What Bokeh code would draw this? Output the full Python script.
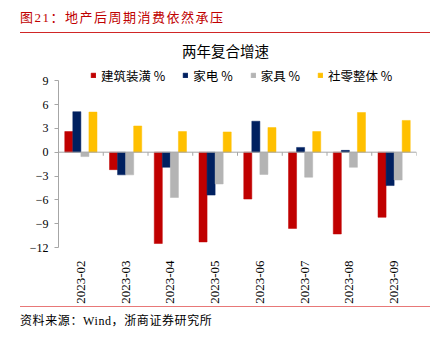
import math
from bokeh.plotting import figure
from bokeh.layouts import column
from bokeh.models import (FixedTicker, Label, Span, Legend, LegendItem, Range1d, Div)
from bokeh.embed import file_html
from bokeh.resources import INLINE

months = ["2023-02", "2023-03", "2023-04", "2023-05", "2023-06", "2023-07", "2023-08", "2023-09"]
building = [2.6, -2.2, -11.5, -11.3, -5.9, -9.6, -10.3, -8.2]
appliance = [5.1, -2.85, -1.9, -5.4, 3.9, 0.6, 0.23, -4.2]
furniture = [-0.55, -2.85, -5.7, -4.0, -2.8, -3.15, -1.9, -3.5]
retail = [5.05, 3.3, 2.6, 2.55, 3.1, 2.6, 5.0, 4.0]
series_names = ["建筑装潢 %", "家电 %", "家具 %", "社零整体 %"]
series_colors = ["#C00000", "#002060", "#B4B4B4", "#FFC000"]
y_ticks = [-12, -9, -6, -3, 0, 3, 6, 9]

title_text = "图21：地产后周期消费依然承压"
chart_title = "两年复合增速"
source_text = "资料来源：Wind，浙商证券研究所"

SERIF = "Liberation Serif"
CJK = "Noto Sans CJK SC"

# layout (pixels)
FIG_TOP = 40          # page y where figure starts
FIG_H = 266
FRAME_TOP_PAGE = 40   # frame top (page)
AX_TOP_PAGE = 81      # where value 9 sits
AX_BOT_PAGE = 251     # where value -12 sits
ymin, ymax = min(y_ticks), max(y_ticks)
px_per_unit = (AX_BOT_PAGE - AX_TOP_PAGE) / (ymax - ymin)
y_top = ymax + (AX_TOP_PAGE - FRAME_TOP_PAGE) / px_per_unit

n = len(months)
p = figure(width=438, height=FIG_H, output_backend="svg", toolbar_location=None,
           x_range=Range1d(0, n), y_range=Range1d(ymin, y_top),
           min_border_left=58, min_border_right=22, min_border_top=FRAME_TOP_PAGE - FIG_TOP,
           min_border_bottom=FIG_TOP + FIG_H - AX_BOT_PAGE)
p.outline_line_color = None
p.xgrid.visible = False
p.ygrid.visible = False
p.background_fill_color = "white"
p.border_fill_color = "white"

bw = 0.18
offsets = [-1.5 * bw, -0.5 * bw, 0.5 * bw, 1.5 * bw]
data_sets = [building, appliance, furniture, retail]
renderers = []
for vals, off, col in zip(data_sets, offsets, series_colors):
    xs = [i + 0.5 + off for i in range(n)]
    r = p.vbar(x=xs, top=vals, bottom=0, width=bw, fill_color=col, line_color=col, line_width=0.5)
    renderers.append(r)

# zero line and category boundary ticks
p.add_layout(Span(location=0, dimension="width", line_color="#A6A6A6", line_width=1))
bx = list(range(1, n + 1))
p.segment(x0=bx, x1=bx, y0=[0] * len(bx), y1=[-0.45] * len(bx), line_color="#A6A6A6", line_width=1)

# axes
p.xaxis.ticker = FixedTicker(ticks=[i + 0.5 for i in range(n)])
p.xaxis.major_label_overrides = {i + 0.5: m for i, m in enumerate(months)}
p.xaxis.major_label_orientation = math.pi / 2
p.xaxis.axis_line_color = None
p.xaxis.major_tick_line_color = None
p.xaxis.minor_tick_line_color = None
p.xaxis.major_label_text_font = SERIF
p.xaxis.major_label_text_font_size = "13px"
p.xaxis.major_label_text_color = "#000000"
p.xaxis.major_label_standoff = 7

p.yaxis.ticker = FixedTicker(ticks=y_ticks)
p.yaxis.bounds = (ymin, ymax)
p.yaxis.axis_line_color = "#A6A6A6"
p.yaxis.major_tick_line_color = "#A6A6A6"
p.yaxis.major_tick_out = 4
p.yaxis.major_tick_in = 0
p.yaxis.minor_tick_line_color = None
p.yaxis.major_label_text_font = SERIF
p.yaxis.major_label_text_font_size = "12px"
p.yaxis.major_label_text_color = "#000000"
p.yaxis.major_label_standoff = 6

# legend (frame-relative screen coordinates)
frame_bottom = AX_BOT_PAGE
items = [LegendItem(label=nm, renderers=[r]) for nm, r in zip(series_names, renderers)]
legend = Legend(items=items, orientation="horizontal", location=(90 - 58, frame_bottom - 89),
                glyph_width=6, glyph_height=6, label_standoff=5, spacing=17,
                padding=0, margin=0, border_line_color=None, background_fill_alpha=0,
                label_text_font=CJK, label_text_font_size="12.5px", label_text_color="#000000",
                label_height=20)
p.add_layout(legend, "center")

p.add_layout(Label(x=225 - 58, y=frame_bottom - 54, x_units="screen", y_units="screen", text=chart_title,
                   text_font=CJK, text_font_size="14.5px", text_color="#000000",
                   text_baseline="middle", text_align="center"))

top_div = Div(width=438, height=FIG_TOP, margin=0, text=(
    "<div style=\"margin-left:20px;width:410px;height:33px;box-sizing:border-box;"
    "border-bottom:1.5px solid #D02626;padding-top:9px;line-height:18px;white-space:pre;letter-spacing:1.5px;"
    "font-family:'Liberation Serif','Noto Sans CJK SC';font-size:13px;color:#C00000;\">"
    + title_text + "</div>"))

bottom_div = Div(width=438, height=339 - FIG_TOP - FIG_H, margin=0, text=(
    "<div style=\"margin-left:20px;width:410px;box-sizing:border-box;"
    "border-top:1.5px solid #E87878;padding-top:6px;line-height:16px;white-space:pre;letter-spacing:0.6px;"
    "font-family:'Liberation Serif','Noto Sans CJK SC';font-size:12px;color:#000000;\">"
    + source_text + "</div>"))

layout = column(top_div, p, bottom_div, spacing=0, margin=0)

open("out.html", "w").write(file_html(layout, INLINE))
